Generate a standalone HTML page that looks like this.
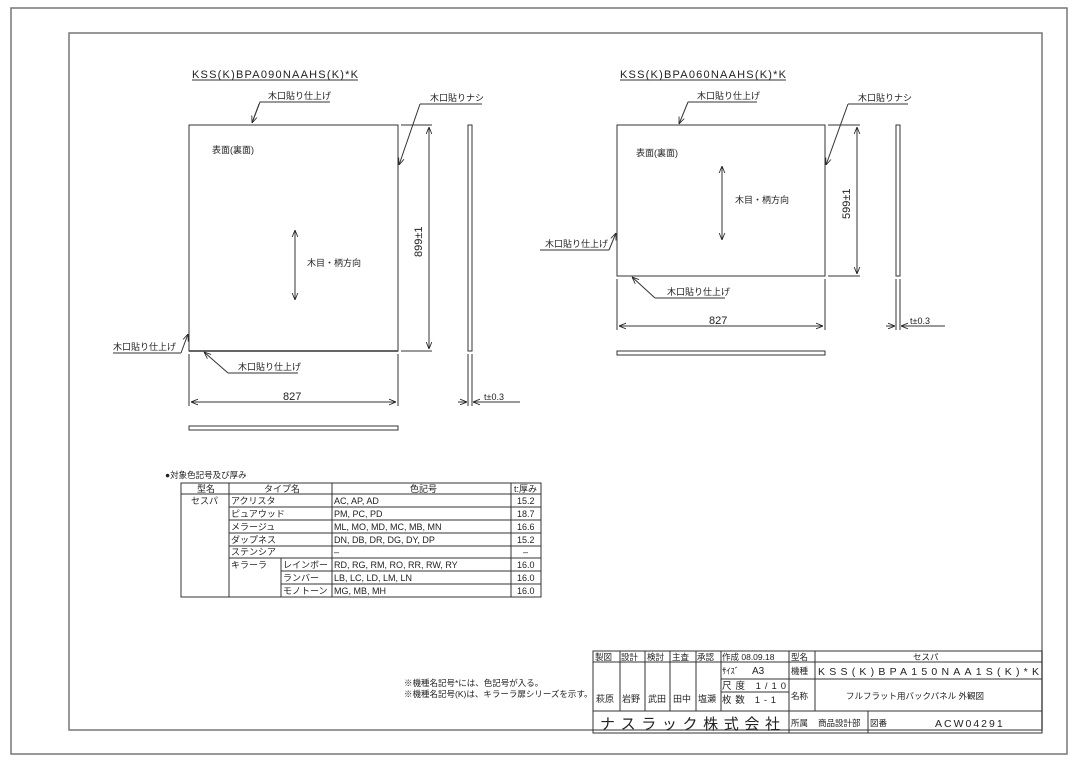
<!DOCTYPE html>
<html><head><meta charset="utf-8"><style>
html,body{margin:0;padding:0;background:#fff}
svg{display:block}
text{font-family:"Liberation Sans","Noto Sans CJK JP",sans-serif;fill:#222}
</style></head><body>
<svg width="1080" height="764" viewBox="0 0 1080 764" xmlns="http://www.w3.org/2000/svg">
<defs>
<marker id="a" viewBox="0 0 10 10" refX="10" refY="5" markerWidth="7" markerHeight="7" orient="auto-start-reverse" markerUnits="userSpaceOnUse"><path d="M0,1 L10,5 L0,9" fill="none" stroke="#222" stroke-width="1.2"/></marker>
</defs>
<rect x="11" y="8" width="1056" height="746" fill="none" stroke="#777" stroke-width="1.5"/>
<rect x="69" y="33" width="973" height="697" fill="none" stroke="#777" stroke-width="1.5"/>
<g stroke="#333" stroke-width="1" fill="none">
<rect x="189" y="125" width="209" height="226"/>
<line x1="189" y1="351" x2="398" y2="351" stroke-width="1.6"/>
<line x1="401" y1="125" x2="432" y2="125"/><line x1="401" y1="351" x2="432" y2="351"/>
<line x1="429" y1="127" x2="429" y2="349" marker-start="url(#a)" marker-end="url(#a)"/>
<line x1="189" y1="354" x2="189" y2="406"/><line x1="398" y1="354" x2="398" y2="406"/>
<line x1="191" y1="402" x2="396" y2="402" marker-start="url(#a)" marker-end="url(#a)"/>
<rect x="468" y="125" width="4" height="226"/>
<line x1="468" y1="354" x2="468" y2="406"/><line x1="472" y1="354" x2="472" y2="406"/>
<line x1="458" y1="402" x2="467" y2="402" marker-end="url(#a)"/>
<line x1="482" y1="402" x2="473" y2="402" marker-end="url(#a)"/>
<line x1="482" y1="402" x2="520" y2="402"/>
<rect x="189" y="426" width="209" height="4"/>
<line x1="295" y1="230" x2="295" y2="300" marker-start="url(#a)" marker-end="url(#a)"/>
<polyline points="330,102 260,102 252,123"/><line x1="259" y1="104" x2="252" y2="123" marker-end="url(#a)"/>
<polyline points="482,104 420,104"/><line x1="420" y1="104" x2="399" y2="165" marker-end="url(#a)"/>
<polyline points="113,353 181,353"/><line x1="181" y1="353" x2="188" y2="334" marker-end="url(#a)"/>
<polyline points="298,373 228,373"/><line x1="228" y1="373" x2="204" y2="352" marker-end="url(#a)"/>
<line x1="192" y1="80" x2="358" y2="80"/>
<rect x="617" y="125" width="208" height="151"/>
<line x1="828" y1="125" x2="860" y2="125"/><line x1="828" y1="276" x2="860" y2="276"/>
<line x1="857" y1="127" x2="857" y2="274" marker-start="url(#a)" marker-end="url(#a)"/>
<line x1="617" y1="279" x2="617" y2="330"/><line x1="825" y1="279" x2="825" y2="330"/>
<line x1="619" y1="326" x2="823" y2="326" marker-start="url(#a)" marker-end="url(#a)"/>
<rect x="896" y="125" width="4" height="151"/>
<line x1="896" y1="279" x2="896" y2="330"/><line x1="900" y1="279" x2="900" y2="330"/>
<line x1="886" y1="326" x2="895" y2="326" marker-end="url(#a)"/>
<line x1="910" y1="326" x2="901" y2="326" marker-end="url(#a)"/>
<line x1="910" y1="326" x2="945" y2="326"/>
<rect x="617" y="351" width="208" height="4"/>
<line x1="722" y1="166" x2="722" y2="240" marker-start="url(#a)" marker-end="url(#a)"/>
<polyline points="757,102 688,102"/><line x1="688" y1="102" x2="679" y2="124" marker-end="url(#a)"/>
<polyline points="908,104 848,104"/><line x1="848" y1="104" x2="826" y2="165" marker-end="url(#a)"/>
<polyline points="540,250 609,250"/><line x1="609" y1="250" x2="616" y2="233" marker-end="url(#a)"/>
<polyline points="725,298 655,298"/><line x1="655" y1="298" x2="632" y2="277" marker-end="url(#a)"/>
<line x1="620" y1="80" x2="786" y2="80"/>
<rect x="181" y="483" width="360" height="114"/>
<line x1="181" y1="494" x2="541" y2="494"/>
<line x1="229" y1="483" x2="229" y2="597"/>
<line x1="332" y1="483" x2="332" y2="597"/>
<line x1="511" y1="483" x2="511" y2="597"/>
<line x1="281" y1="558" x2="281" y2="597"/>
<line x1="229" y1="507" x2="541" y2="507"/>
<line x1="229" y1="520" x2="541" y2="520"/>
<line x1="229" y1="533" x2="541" y2="533"/>
<line x1="229" y1="546" x2="541" y2="546"/>
<line x1="229" y1="558" x2="541" y2="558"/>
<line x1="281" y1="571" x2="541" y2="571"/>
<line x1="281" y1="584" x2="541" y2="584"/>
<rect x="593" y="651" width="449" height="82"/>
<line x1="593" y1="662" x2="1042" y2="662"/>
<line x1="593" y1="711" x2="1042" y2="711"/>
<line x1="721" y1="679" x2="1042" y2="679"/>
<line x1="721" y1="692" x2="789" y2="692"/>
<line x1="620" y1="651" x2="620" y2="711"/>
<line x1="645" y1="651" x2="645" y2="711"/>
<line x1="670" y1="651" x2="670" y2="711"/>
<line x1="696" y1="651" x2="696" y2="711"/>
<line x1="721" y1="651" x2="721" y2="711"/>
<line x1="789" y1="651" x2="789" y2="733"/>
<line x1="815" y1="651" x2="815" y2="711"/>
<line x1="868" y1="711" x2="868" y2="733"/>
</g>
<g font-size="10">
<text x="192" y="78" font-size="11" textLength="166" lengthAdjust="spacing">KSS(K)BPA090NAAHS(K)*K</text>
<text x="268" y="99" font-size="9">木口貼り仕上げ</text>
<text x="430" y="101" font-size="9">木口貼りナシ</text>
<text x="113" y="350" font-size="9">木口貼り仕上げ</text>
<text x="238" y="370" font-size="9">木口貼り仕上げ</text>
<text x="212" y="153" font-size="9">表面(裏面)</text>
<text x="307" y="266" font-size="9">木目・柄方向</text>
<text x="283" y="400" font-size="11">827</text>
<text x="484" y="400" font-size="9">t±0.3</text>
<text transform="translate(422,257) rotate(-90)" font-size="11">899±1</text>
<text x="620" y="78" font-size="11" textLength="166" lengthAdjust="spacing">KSS(K)BPA060NAAHS(K)*K</text>
<text x="697" y="99" font-size="9">木口貼り仕上げ</text>
<text x="858" y="101" font-size="9">木口貼りナシ</text>
<text x="545" y="247" font-size="9">木口貼り仕上げ</text>
<text x="667" y="295" font-size="9">木口貼り仕上げ</text>
<text x="636" y="156" font-size="9">表面(裏面)</text>
<text x="735" y="203" font-size="9">木目・柄方向</text>
<text x="709" y="324" font-size="11">827</text>
<text x="910" y="324" font-size="9">t±0.3</text>
<text transform="translate(850,219) rotate(-90)" font-size="11">599±1</text>
<text x="165" y="478" font-size="8.5">●対象色記号及び厚み</text>
</g>
<g font-size="9">
<text x="197" y="492">型名</text><text x="264" y="492">タイプ名</text><text x="410" y="492">色記号</text><text x="514" y="492">t:厚み</text>
<text x="191" y="504">セスパ</text>
<text x="231" y="504">アクリスタ</text><text x="334" y="504">AC, AP, AD</text><text x="517" y="504">15.2</text>
<text x="231" y="517">ピュアウッド</text><text x="334" y="517">PM, PC, PD</text><text x="517" y="517">18.7</text>
<text x="231" y="530">メラージュ</text><text x="334" y="530">ML, MO, MD, MC, MB, MN</text><text x="517" y="530">16.6</text>
<text x="231" y="543">ダップネス</text><text x="334" y="543">DN, DB, DR, DG, DY, DP</text><text x="517" y="543">15.2</text>
<text x="231" y="555">ステンシア</text><text x="334" y="555">–</text><text x="523" y="555">–</text>
<text x="231" y="568">キラーラ</text><text x="283" y="568">レインボー</text><text x="334" y="568">RD, RG, RM, RO, RR, RW, RY</text><text x="517" y="568">16.0</text>
<text x="283" y="581">ランバー</text><text x="334" y="581">LB, LC, LD, LM, LN</text><text x="517" y="581">16.0</text>
<text x="283" y="594">モノトーン</text><text x="334" y="594">MG, MB, MH</text><text x="517" y="594">16.0</text>
</g>
<g font-size="8.5">
<text x="404" y="686">※機種名記号*には、色記号が入る。</text>
<text x="404" y="697">※機種名記号(K)は、キラーラ扉シリーズを示す。</text>
<text x="595" y="660">製図</text><text x="621" y="660">設計</text><text x="647" y="660">検討</text><text x="672" y="660">主査</text><text x="697" y="660">承認</text>
<text x="722" y="660">作成 08.09.18</text>
<text x="791" y="660">型名</text>
<text x="913" y="660">セスパ</text>
<text x="722" y="674">ｻｲｽﾞ</text><text x="752" y="674" font-size="10">A3</text>
<text x="791" y="674">機種</text>
<text x="818" y="675" font-size="10.5" textLength="221" lengthAdjust="spacing">KSS(K)BPA150NAA1S(K)*K</text>
<text x="722" y="689" font-size="9.5" textLength="64" lengthAdjust="spacing">尺度 1/10</text>
<text x="722" y="703" font-size="9.5" textLength="54" lengthAdjust="spacing">枚数 1-1</text>
<text x="791" y="699">名称</text>
<text x="846" y="699">フルフラット用バックパネル 外観図</text>
<text x="596" y="702" font-size="9">萩原</text><text x="622" y="702" font-size="9">岩野</text><text x="648" y="702" font-size="9">武田</text><text x="673" y="702" font-size="9">田中</text><text x="698" y="702" font-size="9">塩瀬</text>
<text x="600" y="729" font-size="15" textLength="180" lengthAdjust="spacing">ナスラック株式会社</text>
<text x="791" y="726">所属</text><text x="818" y="726">商品設計部</text>
<text x="870" y="726">図番</text>
<text x="935" y="727" font-size="10.5" letter-spacing="2">ACW04291</text>
</g>
</svg>
</body></html>
